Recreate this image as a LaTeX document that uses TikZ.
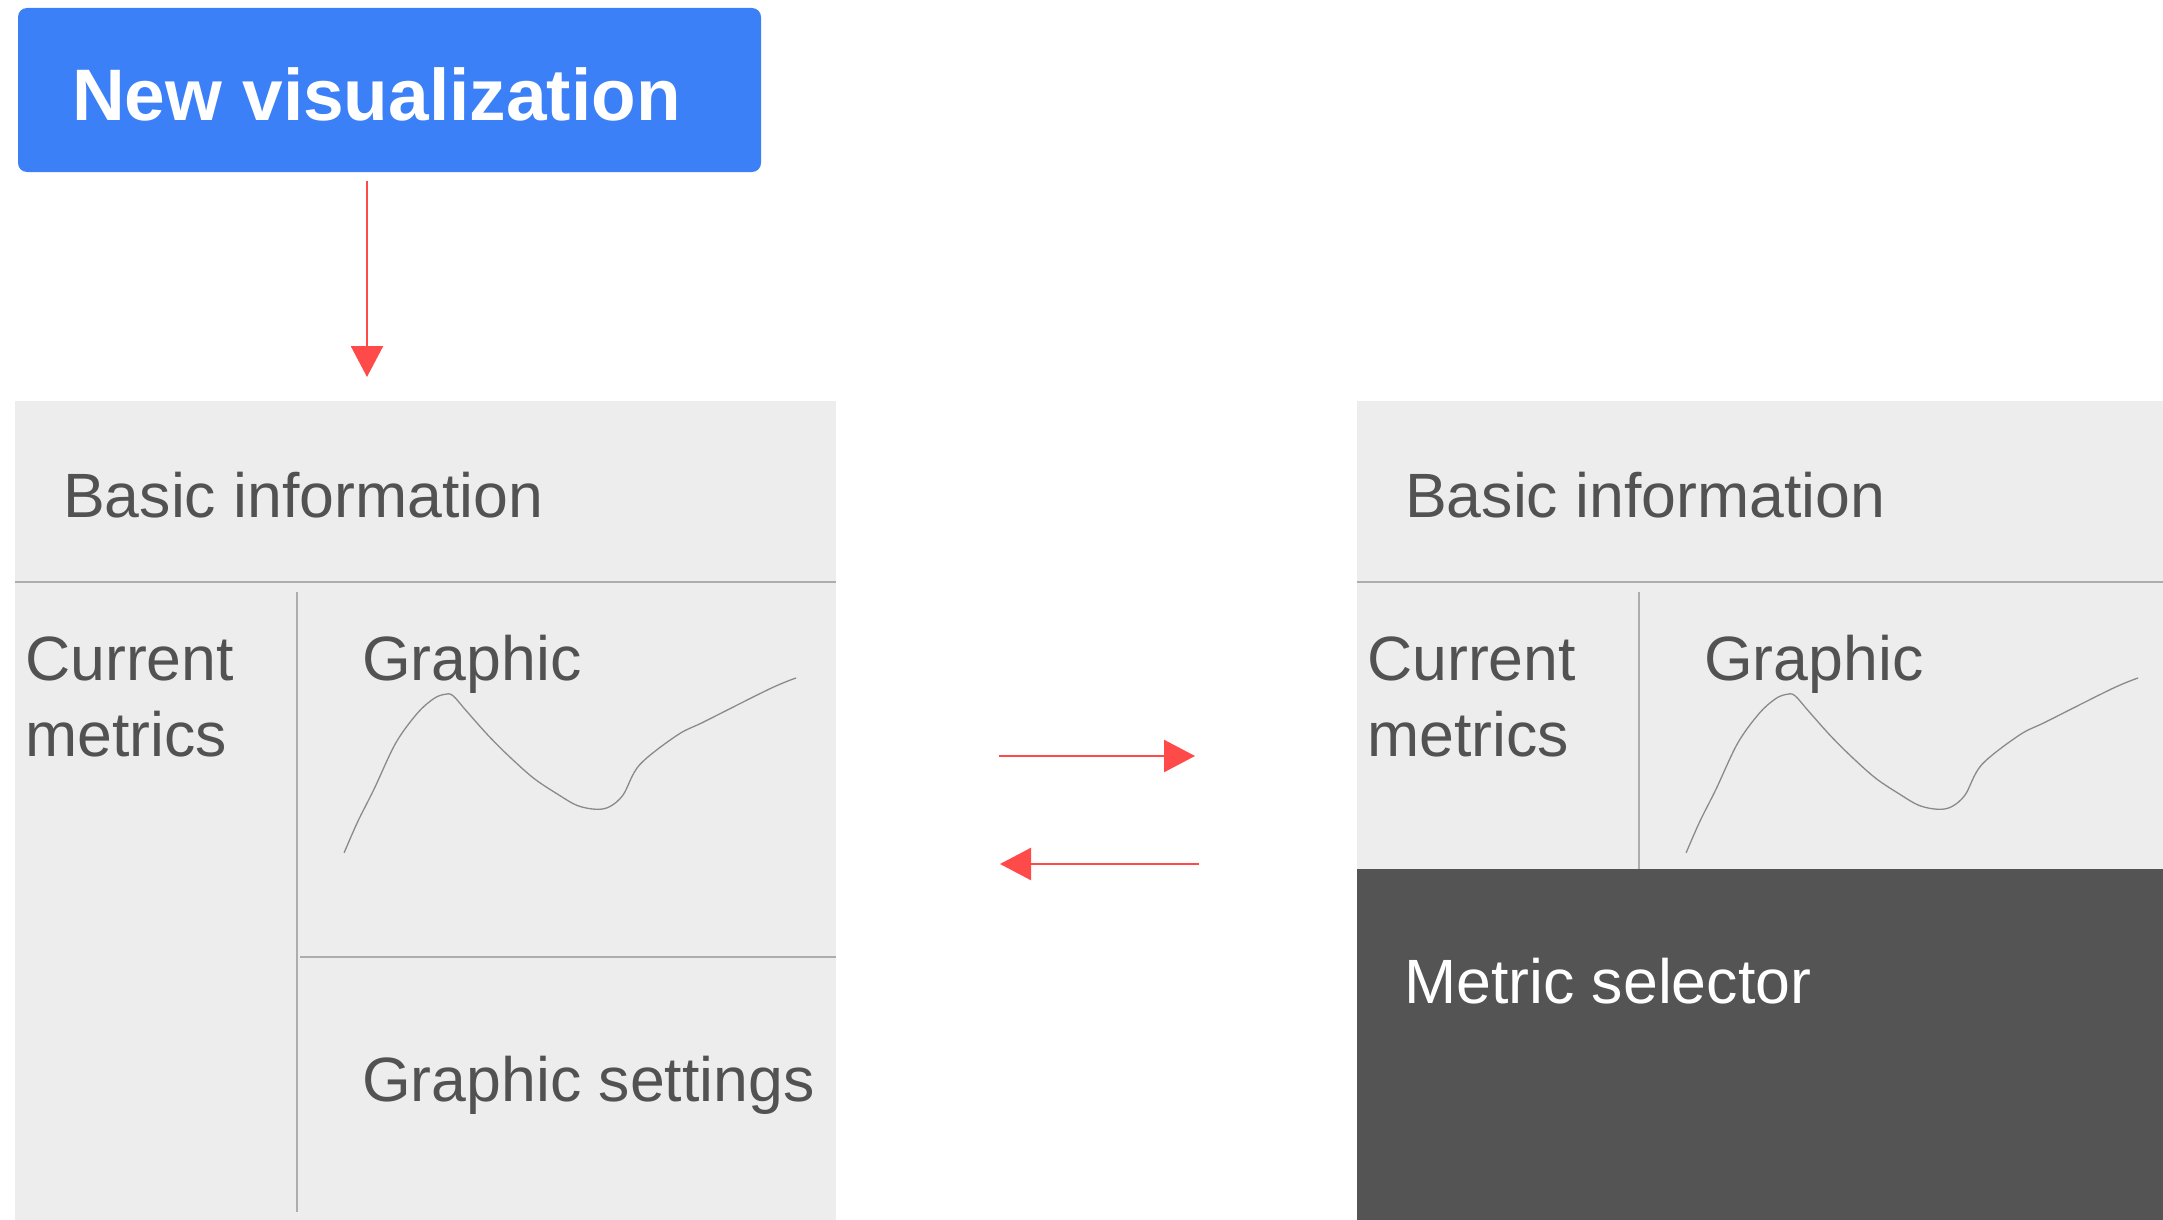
\documentclass[tikz,border=0pt]{standalone}
\usepackage{fontspec}
\setmainfont{Liberation Sans}
\usetikzlibrary{arrows.meta}
\definecolor{btnblue}{HTML}{3C80F8}
\definecolor{panelgray}{HTML}{EDEDED}
\definecolor{linegray}{HTML}{ADADAD}
\definecolor{txtgray}{HTML}{525252}
\definecolor{darkpanel}{HTML}{545454}
\definecolor{arrowred}{HTML}{FF4A4A}
\definecolor{curvegray}{HTML}{8A8A8A}
\tikzset{
  panelbox/.style={fill=panelgray, draw=none, inner sep=0pt, anchor=north west},
  darkbox/.style={fill=darkpanel, draw=none, inner sep=0pt, anchor=north west},
  sepline/.style={draw=linegray, line width=2pt},
  lbl/.style={inner sep=0pt, anchor=base west, text=txtgray, font=\fontsize{62.6}{76}\selectfont},
  redarrow/.style={draw=arrowred, line width=2.5pt, -{Triangle[length=31pt,width=32pt]}},
  sketch/.style={draw=curvegray, line width=1.3pt, line join=round, line cap=round}
}
\begin{document}
\begin{tikzpicture}[x=1pt,y=-1pt]
\useasboundingbox[fill=white] (0,0) rectangle (2163,1220);
% blue button
\node[fill=btnblue, rounded corners=9pt, minimum width=743pt, minimum height=164pt, inner sep=0pt] (newvis) at (389.5,90) {};
\node[inner sep=0pt, anchor=base west, text=white, font=\bfseries\fontsize{73}{80}\selectfont] (newvistxt) at (72,121) {New visualization};
% left panel
\node[panelbox, minimum width=821pt, minimum height=819pt] (lp) at (15,401) {};
\draw[sepline] (15,582) -- (836,582);
\draw[sepline] (297,592) -- (297,1212);
\draw[sepline] (300,957) -- (836,957);
\node[lbl] (lbasic) at (63,517) {Basic information};
\node[lbl] (lcur) at (25,680) {\vtop{\hbox{Current}\hbox{metrics}}};
\node[lbl] (lgraph) at (362,680) {Graphic};
\node[lbl] (lgset) at (362,1101) {Graphic settings};
\draw[sketch] plot[smooth, tension=0.55] coordinates {(344.2,852.6) (357.7,821.7) (374.0,789.2) (395.7,743.1) (417.3,713.3) (433.6,698.7) (444.4,694.4) (452.6,695.4) (466.1,710.6) (487.8,735.0) (509.5,756.7) (533.9,778.4) (558.3,794.6) (577.2,805.5) (596.2,809.3) (609.8,806.6) (623.3,794.6) (639.6,764.8) (677.5,735.0) (704.6,721.5) (769.6,688.9) (795.7,678.1)};
% right panel
\node[panelbox, minimum width=806pt, minimum height=819pt] (rp) at (1357,401) {};
\node[darkbox, minimum width=806pt, minimum height=351pt] (rdark) at (1357,869) {};
\draw[sepline] (1357,582) -- (2163,582);
\draw[sepline] (1639,592) -- (1639,869);
\node[lbl] (rbasic) at (1405,517) {Basic information};
\node[lbl] (rcur) at (1367,680) {\vtop{\hbox{Current}\hbox{metrics}}};
\node[lbl] (rgraph) at (1704,680) {Graphic};
\node[lbl, text=white] (rsel) at (1404,1003) {Metric selector};
\begin{scope}[xshift=1342pt]
\draw[sketch] plot[smooth, tension=0.55] coordinates {(344.2,852.6) (357.7,821.7) (374.0,789.2) (395.7,743.1) (417.3,713.3) (433.6,698.7) (444.4,694.4) (452.6,695.4) (466.1,710.6) (487.8,735.0) (509.5,756.7) (533.9,778.4) (558.3,794.6) (577.2,805.5) (596.2,809.3) (609.8,806.6) (623.3,794.6) (639.6,764.8) (677.5,735.0) (704.6,721.5) (769.6,688.9) (795.7,678.1)};
\end{scope}
% arrows
\coordinate (d1) at (367,181);
\coordinate (d2) at (367,377);
\draw[redarrow] (d1) -- (d2);
\coordinate (r1) at (999,756);
\coordinate (r2) at (1195,756);
\draw[redarrow] (r1) -- (r2);
\coordinate (l1) at (1199,864);
\coordinate (l2) at (1000,864);
\draw[redarrow] (l1) -- (l2);
\end{tikzpicture}
\end{document}
